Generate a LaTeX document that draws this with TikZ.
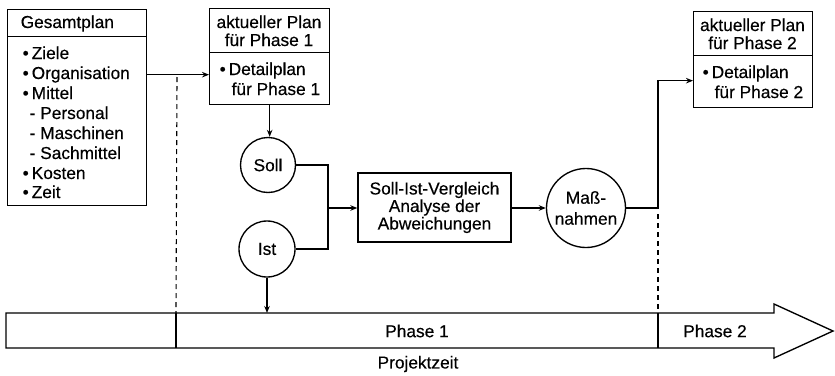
\documentclass[tikz,border=0pt]{standalone}
\usepackage{fontspec}
\setmainfont[FakeBold=0.35]{Liberation Sans}
\usetikzlibrary{arrows.meta}
\begin{document}
\begin{tikzpicture}[x=1pt,y=-1pt,line width=1.35pt,
  txt/.style={font=\fontsize{17.3}{20}\selectfont, inner sep=0},
  boxpart/.style={draw, anchor=north west, inner sep=0},
  circ/.style={draw, circle, inner sep=0, align=center, font=\fontsize{17.3}{20}\selectfont},
  arr/.style={-{Stealth[length=7pt,width=5.5pt]}},
  dashline/.style={line width=1.1pt, dash pattern=on 5pt off 4pt}]
\useasboundingbox (0,0) rectangle (835,375);

% Gesamtplan
\node[boxpart, minimum width=139pt, minimum height=27pt] (gph) at (7,9) {};
\node[boxpart, minimum width=139pt, minimum height=169pt] (gpb) at (7,36) {};
\node[txt, anchor=base west] (gpt) at (20,28) {Gesamtplan};
\node[txt, anchor=base west] (g1) at (22,59) {\textbullet\hspace{3pt}Ziele};
\node[txt, anchor=base west] (g2) at (22,79) {\textbullet\hspace{3pt}Organisation};
\node[txt, anchor=base west] (g3) at (22,99) {\textbullet\hspace{3pt}Mittel};
\node[txt, anchor=base west] (g4) at (29,119) {- Personal};
\node[txt, anchor=base west] (g5) at (29,139) {- Maschinen};
\node[txt, anchor=base west] (g6) at (29,159) {- Sachmittel};
\node[txt, anchor=base west] (g7) at (22,179) {\textbullet\hspace{3pt}Kosten};
\node[txt, anchor=base west] (g8) at (22,198) {\textbullet\hspace{3pt}Zeit};

% aktueller Plan Phase 1
\node[boxpart, minimum width=120pt, minimum height=44pt] (b1h) at (209,8) {};
\node[boxpart, minimum width=120pt, minimum height=52pt] (b1b) at (209,52) {};
\node[txt, anchor=base] (b1t1) at (269,28) {aktueller Plan};
\node[txt, anchor=base] (b1t2) at (269,46) {für Phase 1};
\node[txt, anchor=base west] (b1t3) at (219,75) {\textbullet\hspace{3pt}Detailplan};
\node[txt, anchor=base west] (b1t4) at (231,95) {für Phase 1};

% aktueller Plan Phase 2
\node[boxpart, minimum width=119pt, minimum height=44pt] (b2h) at (693,11) {};
\node[boxpart, minimum width=119pt, minimum height=52pt] (b2b) at (693,55) {};
\node[txt, anchor=base] (b2t1) at (752.5,31) {aktueller Plan};
\node[txt, anchor=base] (b2t2) at (752.5,49) {für Phase 2};
\node[txt, anchor=base west] (b2t3) at (702,78) {\textbullet\hspace{3pt}Detailplan};
\node[txt, anchor=base west] (b2t4) at (714,98) {für Phase 2};

% Soll / Ist
\node[circ, minimum size=55pt] (soll) at (268,165) {Soll};
\node[circ, minimum size=56pt] (ist) at (267,249) {Ist};

% Soll-Ist-Vergleich
\node[draw, inner sep=0, minimum width=153pt, minimum height=69pt, align=center,
  font=\fontsize{17.3}{17.5}\selectfont] (svb) at (434.5,207.5)
  {Soll-Ist-Vergleich\\Analyse der\\Abweichungen};

% Massnahmen
\node[circ, minimum size=79pt, font=\fontsize{17.3}{21}\selectfont] (mass) at (586,208) {Maß-\\nahmen};

% Projektzeit bar
\coordinate (barL) at (6,313);
\path[draw] (6,313) -- (774,313) -- (774,304) -- (833,331) -- (774,358) -- (774,348) -- (6,348) -- cycle;
\coordinate (d1t) at (176,313);
\coordinate (d1b) at (176,348);
\coordinate (d2t) at (658,313);
\coordinate (d2b) at (658,348);
\draw (d1t) -- (d1b);
\draw (d2t) -- (d2b);
\node[txt] (ph1) at (417,331) {Phase 1};
\node[txt] (ph2) at (715,331) {Phase 2};
\node[txt] (pz) at (418,364) {Projektzeit};

% connectors
\coordinate (b1in) at ([yshift=4pt]b1b.west);
\draw[arr] (gpb.east |- b1in) -- (b1in);
\coordinate (ds1) at (177,77);
\draw[dashline] (ds1) -- (d1t);

\draw[arr] (b1b.south) -- (b1b.south |- soll.north);
\coordinate (jn) at (328,208);
\draw (soll.east) -| (jn) |- (ist.east);
\draw[arr] (jn) -- (svb.west |- jn);
\draw[arr] (svb.east |- mass.west) -- (mass.west);
\coordinate (mj) at (658,208);
\coordinate (b2in) at ([yshift=1pt]b2b.west);
\draw[arr] (mass.east) -- (mj) |- (b2in);
\coordinate (ds2) at (658,214);
\draw[dashline] (ds2) -- (d2t);
\coordinate (istbar) at (ist.south |- barL);
\draw[arr] (ist.south) -- (istbar);
\end{tikzpicture}
\end{document}
